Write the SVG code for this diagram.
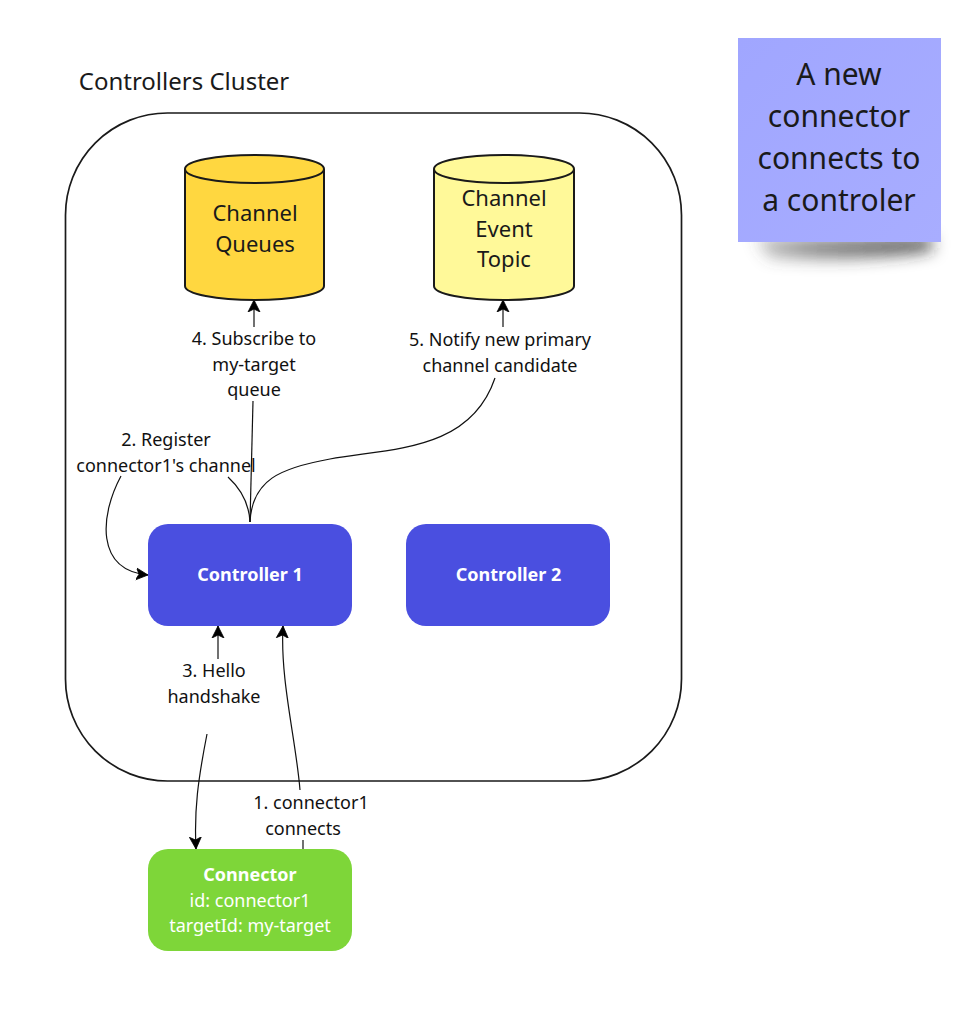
<svg xmlns="http://www.w3.org/2000/svg" width="980" height="1020" viewBox="0 0 980 1020">
<style>
text{font-family:"Noto Sans",sans-serif;text-anchor:middle;fill:#1a1a1a}
.l{font-size:18px;fill:#111}
.c{font-size:22px}
.n{font-size:18px;fill:#fff}
.b{font-weight:700}
.s{font-size:30px}
.e{fill:none;stroke:#111;stroke-width:1.2}
.cyl{stroke:#1a1a1a;stroke-width:2}
</style>
<defs>
<marker id="a" markerUnits="userSpaceOnUse" markerWidth="15" markerHeight="15" refX="12" refY="7" orient="auto" viewBox="0 0 15 14"><path d="M0 1L12 7L0 13L3 7Z" fill="#000" stroke="#000" stroke-width=".8"/></marker>
<filter id="sh" x="-20%" y="-200%" width="140%" height="500%"><feGaussianBlur stdDeviation="8"/></filter>
<linearGradient id="st" x1="0" y1="0" x2="1" y2="1"><stop offset="0" stop-color="#a0a6ff"/><stop offset="1" stop-color="#a8adff"/></linearGradient>
<linearGradient id="sg" x1="0" y1="0" x2="1" y2="0"><stop offset="0" stop-color="#555" stop-opacity=".35"/><stop offset=".3" stop-color="#444" stop-opacity=".6"/><stop offset="1" stop-color="#222" stop-opacity=".85"/></linearGradient>
</defs>
<rect width="980" height="1020" fill="#fff"/>
<text x="184" y="90" style="font-size:24px">Controllers Cluster</text>
<rect id="cluster" x="65.500" y="113" width="616" height="668" rx="102" fill="none" stroke="#1a1a1a" stroke-width="1.7"/>
<g id="connectors">
<path class="e" d="M254 327V300" marker-end="url(#a)"/>
<path class="e" d="M253 401L250 522"/>
<path class="e" d="M503 327V300" marker-end="url(#a)"/>
<path class="e" d="M495 378C470 452 390 448 330 459C280 468 252 480 250 522"/>
<path class="e" d="M228 477C240 488 249 502 250 522"/>
<path class="e" d="M121 476C100 515 95 570 148 575" marker-end="url(#a)"/>
<path class="e" d="M218 659L218 626" marker-end="url(#a)"/>
<path class="e" d="M300 790C296 740 280 680 283 626" marker-end="url(#a)"/>
<path class="e" d="M207 734C198 780 194 810 196 849" marker-end="url(#a)"/>
<path class="e" d="M303 840V849"/>
</g>
<g id="channel-queues">
<path class="cyl" fill="#ffd740" d="M185 169C185 161 216 155 255 155S324 161 324 169V286C324 294 293 300 255 300S185 294 185 286Z"/>
<path class="cyl" fill="none" d="M185 169C185 177 216 183 255 183S324 177 324 169"/>
<text class="c" x="255" y="221">Channel</text><text class="c" x="255" y="252">Queues</text>
</g>
<g id="channel-event-topic">
<path class="cyl" fill="#fff999" d="M434 169C434 161 465 155 504 155S574 161 574 169V286C574 294 543 300 504 300S434 294 434 286Z"/>
<path class="cyl" fill="none" d="M434 169C434 177 465 183 504 183S574 177 574 169"/>
<text class="c" x="504" y="206">Channel</text><text class="c" x="504" y="237">Event</text><text class="c" x="504" y="267">Topic</text>
</g>
<g id="controller-1"><rect x="148" y="524" width="204" height="102" rx="20" fill="#4a4fe0"/><text class="n b" x="250" y="581">Controller 1</text></g>
<g id="controller-2"><rect x="406" y="524" width="204" height="102" rx="20" fill="#4a4fe0"/><text class="n b" x="508.500" y="581">Controller 2</text></g>
<g id="connector"><rect x="148" y="849" width="204" height="102" rx="20" fill="#7ed639"/>
<text class="n b" x="250" y="881">Connector</text><text class="n" x="250" y="907">id: connector1</text><text class="n" x="250" y="932">targetId: my-target</text></g>
<g id="labels">
<text class="l" x="254" y="345">4. Subscribe to</text><text class="l" x="254" y="371">my-target</text><text class="l" x="254" y="396">queue</text>
<text class="l" x="500" y="346">5. Notify new primary</text><text class="l" x="500" y="372">channel candidate</text>
<text class="l" x="166" y="446">2. Register</text><text class="l" x="166" y="472">connector1's channel</text>
<text class="l" x="214" y="677">3. Hello</text><text class="l" x="214" y="703">handshake</text>
<text class="l" x="311" y="809">1. connector1</text><text class="l" x="303" y="835">connects</text>
</g>
<g id="sticky">
<path d="M755 238H932V250Q860 262 770 257Z" fill="url(#sg)" filter="url(#sh)"/>
<rect x="738" y="38" width="203" height="204" fill="url(#st)"/>
<text class="s" x="839" y="85">A new</text><text class="s" x="839" y="127">connector</text><text class="s" x="839" y="169">connects to</text><text class="s" x="839" y="211">a controler</text>
</g>
</svg>
